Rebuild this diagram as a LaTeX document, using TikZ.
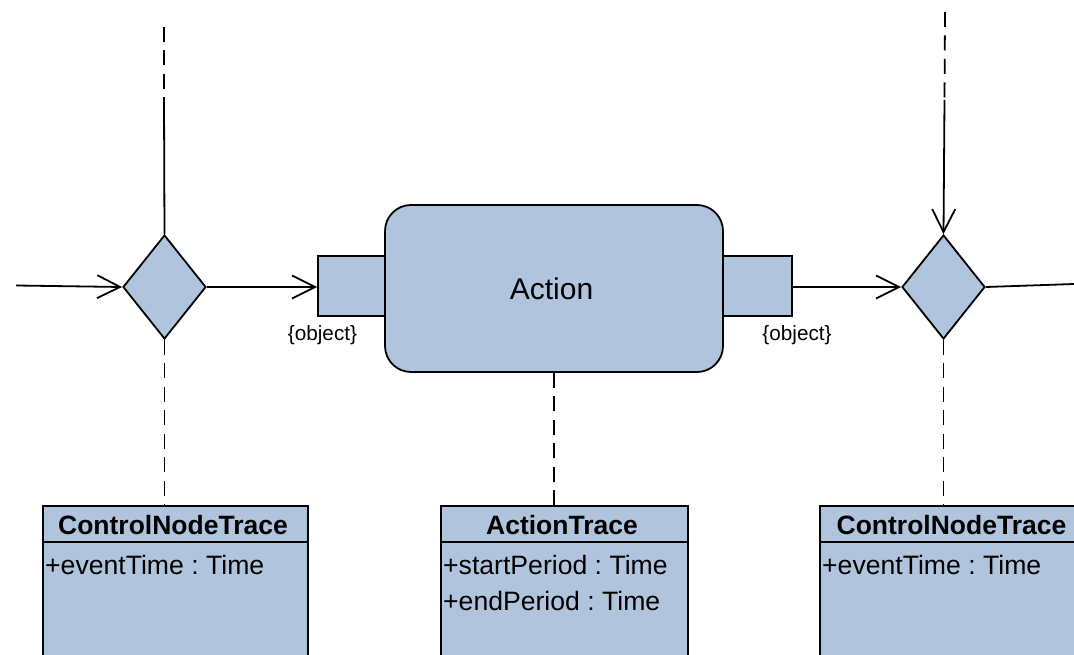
\documentclass[tikz,border=0pt]{standalone}
\usepackage{fontspec}
\setmainfont{Liberation Sans}
\usetikzlibrary{shapes.geometric,arrows.meta}

\definecolor{umlfill}{RGB}{176,196,222}

\tikzset{
  base/.style={line width=1.8pt, draw=black},
  flow/.style={base, -{Straight Barb[length=23pt,width=23pt]}},
  link/.style={base, dash pattern=on 15pt off 8.5pt},
  decision/.style={base, fill=umlfill, shape=diamond, inner sep=0pt,
    minimum width=83pt, minimum height=104pt},
  actionbox/.style={base, fill=umlfill, rectangle, rounded corners=26pt,
    minimum width=338pt, minimum height=167pt, inner sep=0pt},
  pinbox/.style={base, fill=umlfill, rectangle, minimum height=60pt, inner sep=0pt},
  classbox/.style={base, fill=umlfill, rectangle, anchor=north west, inner sep=0pt},
  classtitle/.style={anchor=base, font=\fontsize{26.5}{30}\selectfont\bfseries, inner sep=0pt},
  attr/.style={anchor=base west, font=\fontsize{26.6}{30}\selectfont, inner sep=0pt},
  pinlabel/.style={anchor=base, font=\fontsize{20.7}{24}\selectfont, inner sep=0pt},
}

\begin{document}
\frenchspacing
\begin{tikzpicture}[x=1pt, y=-1pt]
  \useasboundingbox (0,0) rectangle (1074,655);
  \clip (0,0) rectangle (1074,655);

  % control nodes and the action with its pins
  \node[decision] (d1) at (164.5,287) {};
  \node[decision] (d2) at (943.5,287) {};
  \node[pinbox, minimum width=67pt] (pin1) at (351.5,286) {};
  \node[pinbox, minimum width=69pt] (pin2) at (757.5,286) {};
  \node[actionbox] (act) at (554,288.5) {};
  \node[anchor=base, font=\fontsize{30}{34}\selectfont, inner sep=0pt] (actlbl) at (551.5,299) {Action};
  \node[pinlabel] (pl1) at (322.5,340) {\{object\}};
  \node[pinlabel] (pl2) at (797,340) {\{object\}};

  % trace classes
  \node[classbox, minimum width=265pt, minimum height=175pt] (c1) at (42,505) {};
  \node[classbox, minimum width=247pt, minimum height=175pt] (c2) at (440,505) {};
  \node[classbox, minimum width=265pt, minimum height=175pt] (c3) at (819,505) {};
  \draw[base] (42,542) -- (307,542);
  \draw[base] (440,542) -- (687,542);
  \draw[base] (819,542) -- (1084,542);

  \node[classtitle] (t1) at (173,534) {ControlNodeTrace};
  \node[classtitle] (t2) at (562,534) {ActionTrace};
  \node[classtitle] (t3) at (951.5,534) {ControlNodeTrace};
  \node[attr] (a1) at (45,574) {+eventTime : Time};
  \node[attr] (a2) at (443,574) {+startPeriod : Time};
  \node[attr] (a3) at (443,610) {+endPeriod : Time};
  \node[attr] (a4) at (822,574) {+eventTime : Time};

  % flow edges
  \coordinate (in1) at (16,285.5);
  \coordinate (out1) at (1074,284);
  \coordinate (lt1) at (164,27);
  \coordinate (lt2) at (164,100);
  \coordinate (rt1) at (945,12);
  \coordinate (rt2) at (944.5,100);

  \draw[flow] (in1) -- (d1.west);
  \draw[flow] (d1.east) -- (pin1.west |- d1.east);
  \draw[flow] (pin2.east |- d2.west) -- (d2.west);
  \draw[base] (d2.east) -- (out1);

  \draw[link] (lt1) -- (lt2);
  \draw[base] (lt2) -- (d1.north);
  \draw[link] (rt1) -- (rt2);
  \draw[flow] (rt2) -- (d2.north);

  % trace links
  \draw[link] (d1.south) -- (d1.south |- c1.north);
  \draw[link] (act.south) -- (act.south |- c2.north);
  \draw[link] (d2.south) -- (d2.south |- c3.north);
\end{tikzpicture}
\end{document}
